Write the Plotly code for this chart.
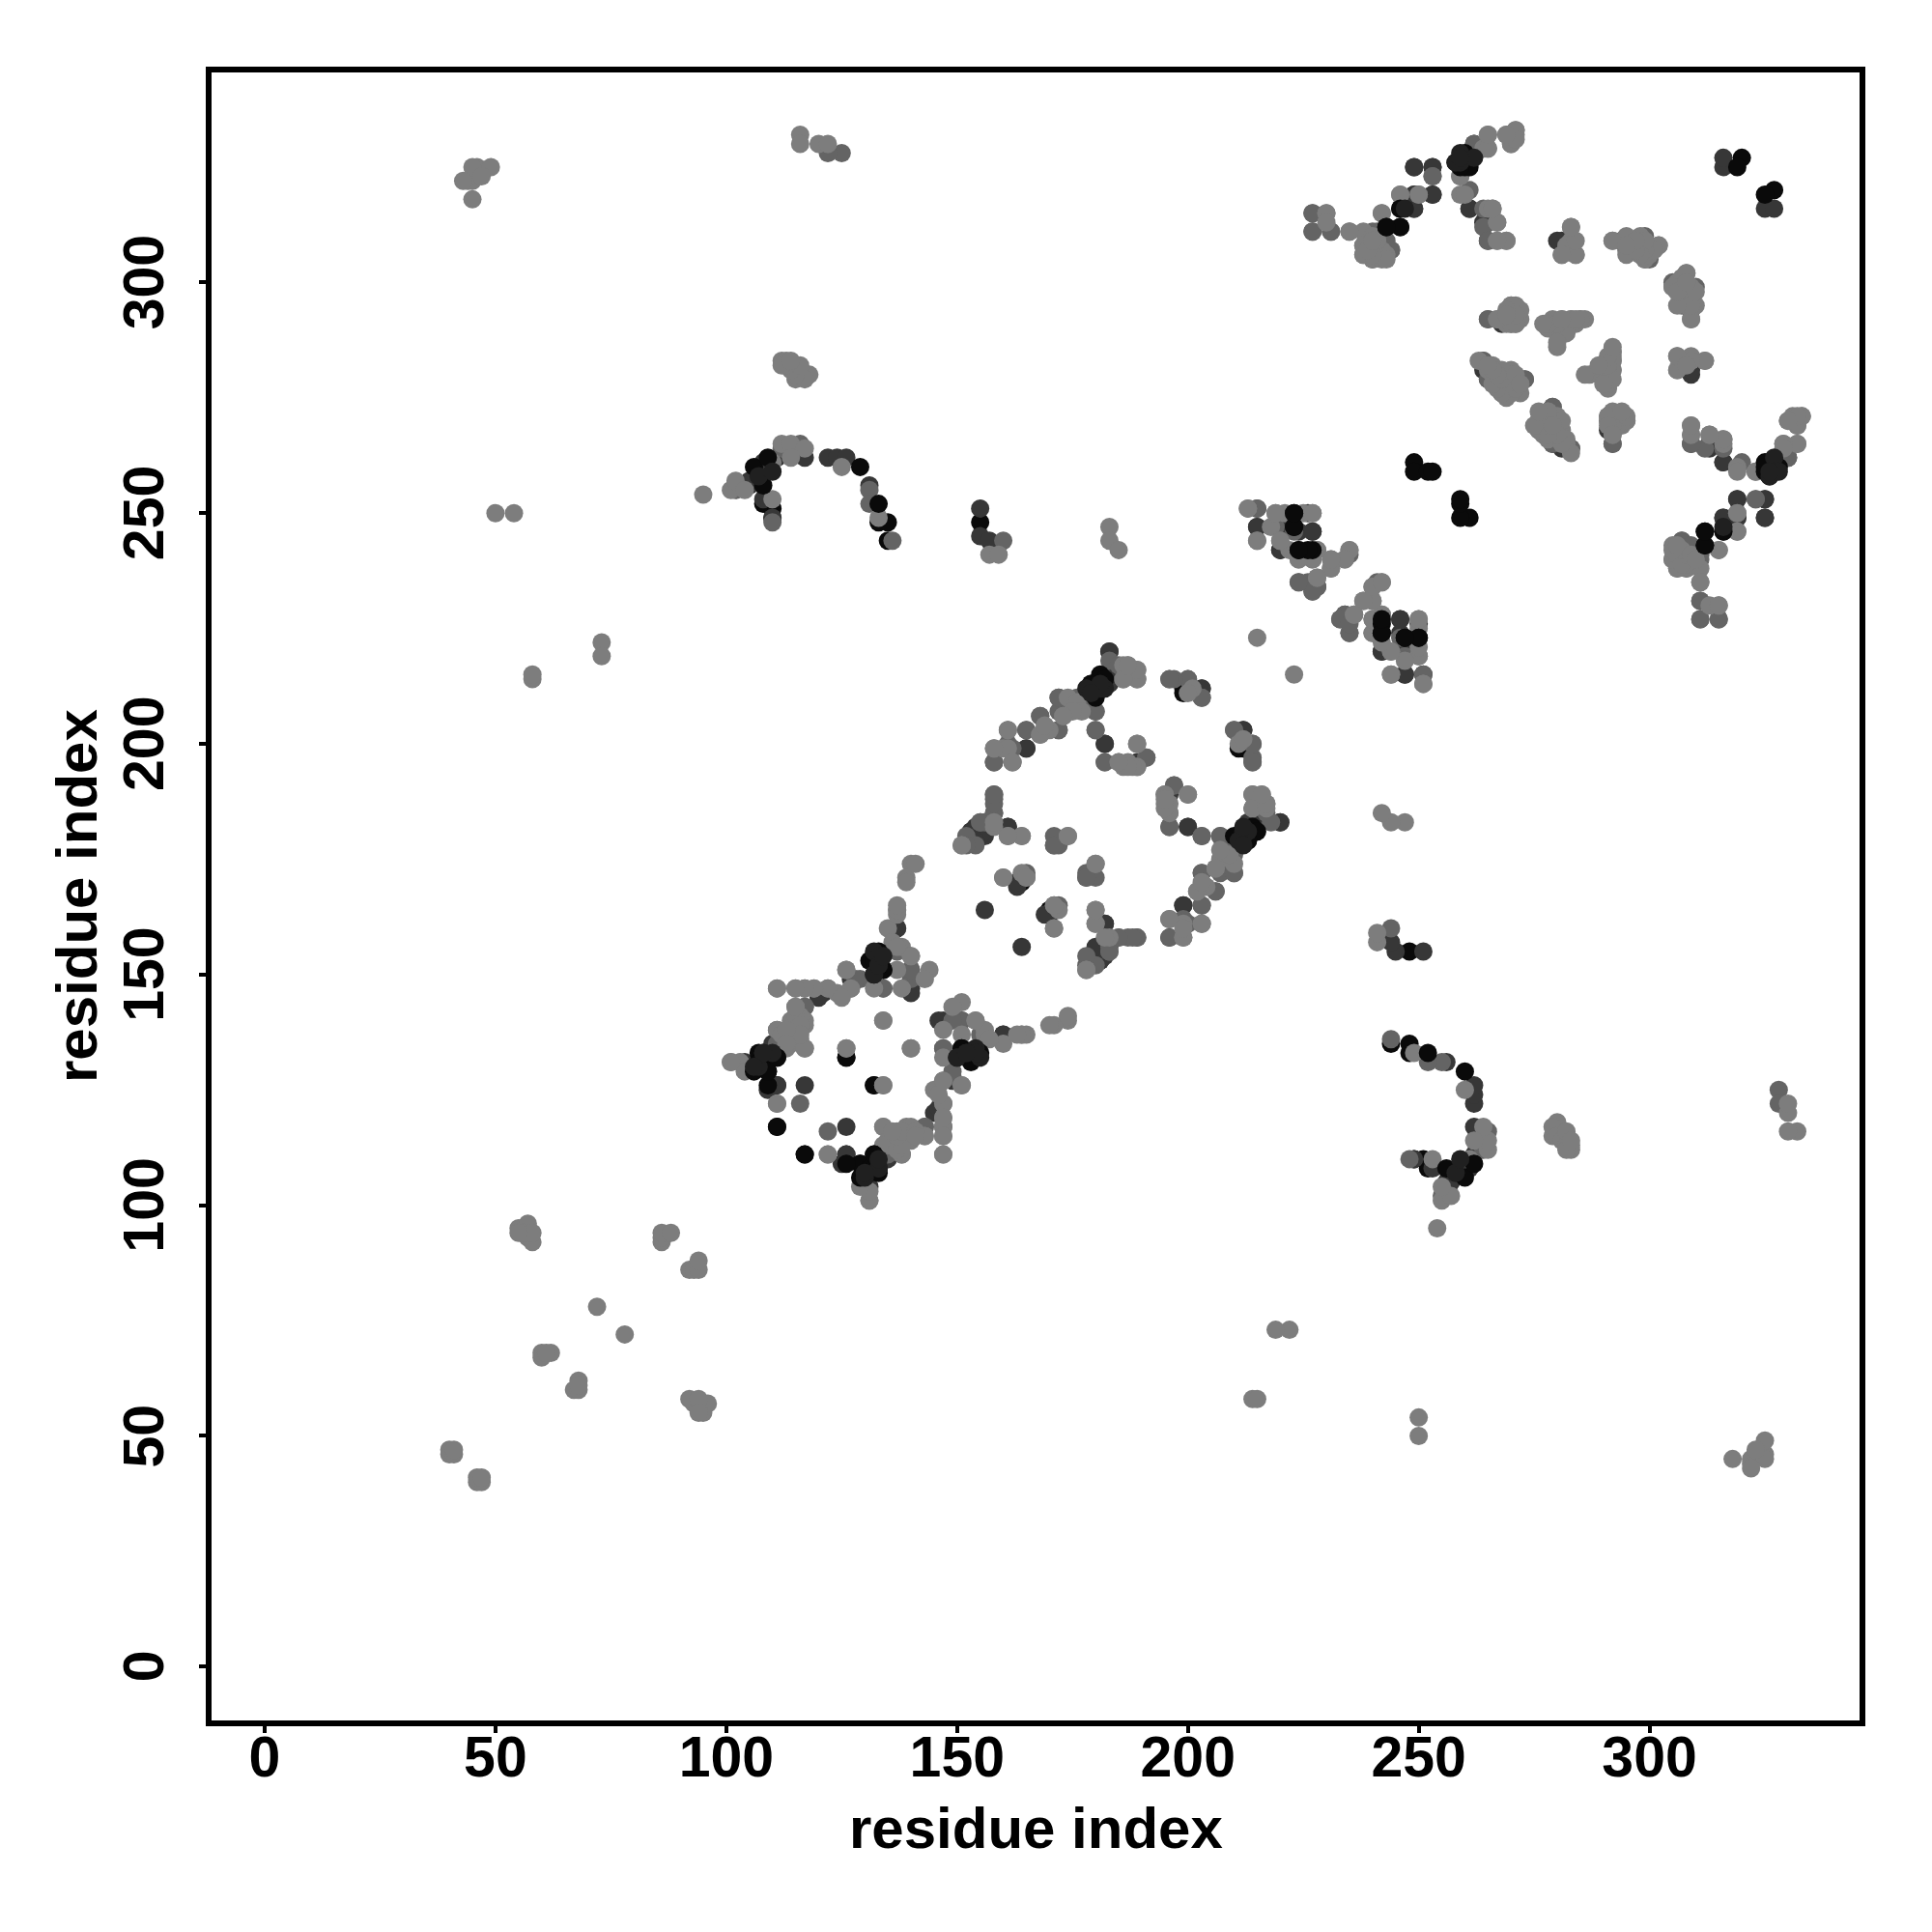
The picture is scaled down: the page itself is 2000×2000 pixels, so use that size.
import plotly.graph_objects as go

black_pairs = [(108,252),(110,251),(110,249),(133,248),(135,248),(135,244),
 (155,248),(126,132),(132,126),(126,111),(111,117),(117,111),(199,212),(211,199),(170,164),(163,170)]
dark_pairs = [(105,256),(105,257),(108,261),(108,253),(111,262),(117,262),(122,262),(124,262),(126,262),(131,256),(110,249),(155,251),(155,245),(157,244),
 (105,130),(110,135),(111,126),(117,126),(125,109),(127,149),(121,146),(137,160),(140,147),(145,120),(146,140),(131,104),(134,110),(160,137),(156,164),
 (183,220),(183,214),(183,213),(179,210),(178,211),(177,210),(165,199),(182,200),(203,212),(212,203),(161,182),(154,182),(153,181),(156,180),(163,169),(170,163),
 (182,161),(181,154),(180,155),(179,154),(181,153),(196,189),(200,182),(220,183),(215,183),(209,178),(211,178),(213,179),(199,165),(196,158),
 (215,247),(220,247),(227,246),(224,246),(220,242),(228,234),(234,227),(250,226),(246,227),(242,220),(247,220),(247,215),(215,251),
 (249,325),(253,325),(261,326),(261,316),(249,319),(253,319),(249,316),(265,313),(281,309),(240,308),(243,307),(264,281),(265,279),(268,291),
 (281,265),(309,265),(313,264),(316,261),(330,262),(319,253),(325,253),(325,249),(316,249),(319,249),(316,246),(308,243),(309,294),(309,280),(316,325),(316,327)]
mid_pairs = [(102,255),(131,255),(110,248),(116,265),(112,264),(136,244),(131,252),(160,244),(125,328),(122,328),
 (116,122),(117,143),(117,147),(122,147),(129,149),(134,147),(137,155),(140,151),(140,149),(151,140),(147,134),(143,117),(147,127),(149,128),(135,111),(138,111),
 (183,218),(189,214),(186,214),(176,210),(172,210),(180,207),(172,203),(168,206),(165,203),(161,203),(162,199),(158,196),(162,196),(180,203),(182,196),(191,197),(196,214),(200,214),(203,210),
 (210,203),(214,200),(214,197),(214,196),(158,189),(158,188),(158,185),(156,183),(155,183),(152,180),(154,178),(171,178),(160,171),(178,172),(180,171),(178,171),(171,165),(172,165),
 (185,158),(187,158),(189,158),(183,155),(178,152),(197,191),(195,189),(196,182),(203,180),(207,180),(217,185),(208,177),(207,172),(210,172),(203,172),(206,168),(203,165),(200,161),
 (235,241),(224,235),(227,233),(226,235),(234,228),(233,227),(235,224),(246,223),(247,219),(251,215),
 (253,323),(262,330),(264,312),(265,309),(227,315),(227,311),(231,311),(240,311),(244,307),(243,309),(265,292),(264,283),(273,279),(268,276),(279,273),(279,265),(283,264),
 (305,300),(310,299),(305,299),(307,295),(316,264),(320,261),(323,253),(319,250),(311,241),(307,244),(305,240),(308,239),(310,242),(311,231),(311,227),(315,227),(292,265),
 (306,242),(307,240),(309,241)]
gray_pairs = [(44,322),(45,322),(46,323),(46,325),(45,325),(49,325),(45,318),(43,322),(47,323),
 (116,332),(116,330),(120,330),(122,330),(112,283),(113,283),(115,282),(116,281),(116,280),(118,280),(115,281),(115,279),
 (117,279),(115,280),(114,281),(113,282),(116,282),(112,282),(114,283),
 (50,250),(54,250),(58,214),(58,215),(73,222),(73,219),(40,46),(40,47),(41,46),(41,47),(55,95),(57,96),(57,93),(58,92),(56,94),(58,94),(55,94),
 (86,92),(86,93),(86,94),(88,94),(60,67),(60,68),(62,68),(61,68),(72,78),(183,247),(183,244),(185,242),(157,241),(159,241),(95,254),
 (101,255),(102,257),(104,255),(112,265),(114,265),(117,264),(114,262),(110,261),(125,260),(110,253),(133,249),
 (101,131),(103,131),(104,129),(111,122),(111,138),(114,139),(117,139),(117,140),(114,140),(117,134),(114,135),(113,134),(112,137),(115,143),(115,147),(111,147),(119,147),(124,146),(127,147),(126,151),
 (113,138),(115,137),(116,138),(116,141),(115,141),(116,136),
 (132,147),(135,160),(137,164),(137,163),(138,156),(140,154),(136,157),(137,151),(144,151),(143,149),(138,147),(134,140),(126,134),(140,134),(134,126),(134,117),(122,111),(147,111),
 (147,122),(147,119),(147,117),(147,115),(143,115),(139,116),(137,116),(138,113),(135,113),(145,125),(151,126),(154,140),(156,137),(164,137),(165,137),(140,174),(139,171),(139,170),(141,174),(131,101),
 (186,217),(187,217),(189,216),(174,210),(176,209),(177,207),(173,206),(168,202),(170,203),(158,199),(160,199),(185,196),(187,196),(189,200),(189,195),(186,195),(188,195),(201,212),(211,200),
 (161,180),(164,180),(151,178),(158,182),(174,180),(164,172),(165,171),(180,174),(171,160),(180,164),(180,161),(183,158),(178,151),(200,189),(195,187),(196,185),
 (214,189),(216,189),(214,186),(217,187),(207,175),(206,173),(202,168),(204,169),(203,161),(199,161),(196,162),(199,158),
 (213,251),(219,250),(221,250),(225,250),(227,250),(218,247),(215,244),(220,244),(222,242),(228,242),(224,240),(227,240),(231,240),(231,238),(234,240),(235,242),(228,236),
 (242,235),(240,234),(238,231),(240,231),(236,228),(242,228),(240,227),(250,227),(240,224),(244,220),(250,219),(244,215),(251,213),(215,223),
 (265,332),(265,329),(264,329),(269,332),(271,333),(271,332),(270,330),(259,323),(259,319),(265,316),(266,316),(267,313),(267,309),(269,309),
 (246,319),(250,319),(242,315),(238,308),(238,306),(240,305),(241,306),(238,311),(230,315),(235,311),(283,312),(283,309),(281,306),(284,306),(282,308),(292,309),
 (239,308),(239,307),(241,308),(242,307),(242,305),(243,306),(241,309),(240,310),
 (270,295),(271,293),(270,291),(278,291),(281,292),(285,292),(283,292),(280,289),(280,286),(266,282),(268,279),(270,281),(270,276),(276,270),(276,268),(280,270),(281,268),
 (279,292),(282,291),(284,291),(286,292),(278,290),(282,289),
 (263,283),(265,281),(267,280),(267,278),(269,277),(271,278),(272,278),(269,275),(272,276),(269,279),
 (277,271),(278,269),(277,267),(278,266),(279,268),(280,267),(281,266),(282,265),(280,271),(278,272),
 (269,292),(271,295),(272,292),(271,291),(269,291),(272,294),(267,292),
 (292,285),(292,283),(287,280),(291,280),(291,278),(291,277),(292,284),(292,281),(295,309),(295,306),(298,310),(299,305),(302,308),(298,306),(300,308),
 (308,302),(310,295),(309,292),(306,284),(309,284),(312,283),(306,281),(292,270),(291,270),(295,270),(292,267),(291,271),(293,271),(294,269),(293,269),
 (306,300),(307,301),(307,299),(309,299),(306,298),(307,297),(309,297),(308,295),
 (309,269),(309,267),(313,267),(316,266),(319,260),(323,259),(329,265),(332,265),(330,270),(333,271),(331,271),(332,269),(319,246),(315,242),(305,243),(306,238),(308,238),(311,235),(315,230),(313,230),(306,240),(307,239),(309,240)]
# Darkest contacts that sit over the lighter ones in the picture
front_black_pairs = [(108,256),(106,260),(109,262),(129,260),(133,252),
 (107,133),(106,129),(109,129),(108,131),(111,132),(109,126),
 (131,153),(134,151),(129,109),(131,107),(132,111),
 (151,134),(153,132),(155,133),(181,215),(179,213),(214,182),(210,180),
 (223,250),(223,247),(224,242),(227,242),(242,226),(242,224),(247,223),(250,223),
 (249,261),(249,259),(252,259),(253,259),(258,326),(260,325),(246,316),(243,312),(246,312),
 (325,261),(325,259),(328,260),(312,246),(312,243),(320,327),(319,325)]
front_dark_pairs = [(107,258),(110,259),(108,133),(107,130),(110,133),(132,155),(132,150),(133,154),(133,152),(133,108),(130,106),
 (150,132),(152,133),(154,134),(182,212),(178,212),(212,181),(213,181),(211,179),(259,328),(259,326),(247,316),(327,262),(326,258),(327,259)]

axis_ticks = [0, 50, 100, 150, 200, 250, 300]
axis_title = "residue index"
shade_order = [("black", black_pairs, 10), ("dark", dark_pairs, 55), ("mid", mid_pairs, 100), ("gray", gray_pairs, 125),
               ("front", front_black_pairs, 10), ("front dark", front_dark_pairs, 32)]

fig = go.Figure()
for name, pairs, level in shade_order:
    xs = [p[0] for p in pairs] + [p[1] for p in pairs]
    ys = [p[1] for p in pairs] + [p[0] for p in pairs]
    fig.add_trace(go.Scatter(x=xs, y=ys, mode="markers", name=name, showlegend=False,
                             marker=dict(size=19, color=f"rgb({level},{level},{level})", line=dict(width=0))))

tfont = dict(family="Liberation Sans", size=59, color="black", weight="bold")
title_font = dict(family="Liberation Sans", size=60, color="black", weight="bold")
axis = dict(tickmode="array", tickvals=axis_ticks, ticks="outside", ticklen=7, tickwidth=4, tickcolor="black",
            showline=True, mirror=True, linewidth=6, linecolor="black", showgrid=False, zeroline=False, tickfont=tfont)
fig.update_layout(width=2000, height=2000, autosize=False, paper_bgcolor="white", plot_bgcolor="white",
                  margin=dict(l=211.3, r=83.3, t=67, b=227.3, pad=0))
fig.update_xaxes(**axis, range=[-11.51, 345.5], ticklabelstandoff=-26)
fig.update_yaxes(**axis, range=[-11.66, 345.5], showticklabels=False)
# Rotated y labels are centred on their ticks, as in the reference
for t in axis_ticks:
    fig.add_annotation(xref="paper", yref="y", x=0, y=t, text=str(t), textangle=-90, showarrow=False,
                       xanchor="center", yanchor="middle", xshift=-70, font=tfont)
fig.add_annotation(xref="paper", yref="paper", x=0, y=0.5, text=axis_title, textangle=-90, showarrow=False,
                   xanchor="center", yanchor="middle", xshift=-140, font=title_font)
fig.add_annotation(xref="paper", yref="paper", x=0.5, y=0, text=axis_title, showarrow=False,
                   xanchor="center", yanchor="middle", yshift=-111, font=title_font)
fig.write_html("out.html")
